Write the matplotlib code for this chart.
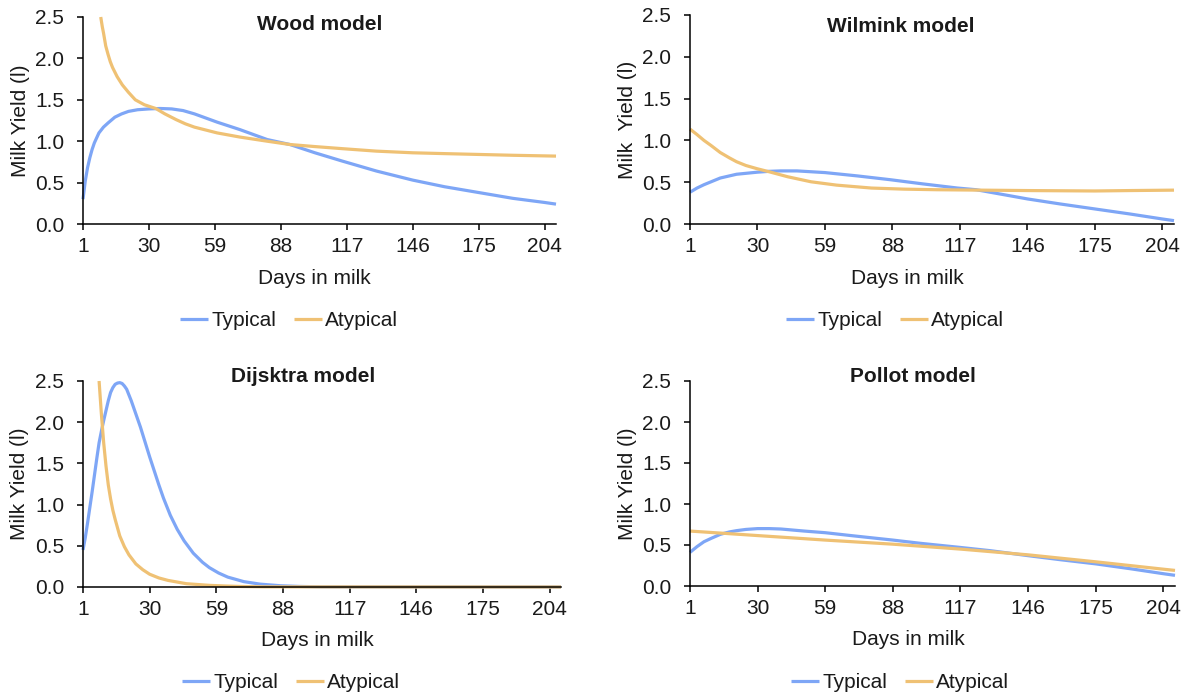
import matplotlib
matplotlib.use("Agg")
import matplotlib.pyplot as plt

plt.rcParams['font.family'] = ['Liberation Sans', 'DejaVu Sans']

blue = '#7EA6F6'
gold = '#EFC174'

x_ticks = [1, 30, 59, 88, 117, 146, 175, 204]
y_ticks = [0.0, 0.5, 1.0, 1.5, 2.0, 2.5]

# Wood model
wood_typ_days = [1, 2, 3, 4, 5, 6, 8, 10, 12, 15, 18, 21, 25, 30, 35, 40, 45, 50, 60, 70,
                 82, 92, 103, 115, 130, 146, 160, 175, 190, 204, 209]
wood_typ = [0.30, 0.52, 0.68, 0.80, 0.90, 0.98, 1.10, 1.17, 1.22, 1.29, 1.33, 1.36, 1.38, 1.39,
            1.395, 1.39, 1.37, 1.33, 1.23, 1.14, 1.02, 0.96, 0.86, 0.76, 0.64, 0.53, 0.45, 0.38,
            0.31, 0.26, 0.24]
wood_atyp_days = [8.8, 9.5, 10, 11, 12, 13, 14, 16, 18.3, 21, 24, 28, 33, 37, 42, 46, 50, 60,
                  70, 82, 92, 103, 115, 130, 146, 160, 175, 190, 209]
wood_atyp = [2.5, 2.38, 2.31, 2.15, 2.05, 1.96, 1.89, 1.78, 1.68, 1.59, 1.50, 1.44, 1.395, 1.33,
             1.26, 1.21, 1.17, 1.10, 1.05, 1.0, 0.96, 0.935, 0.91, 0.88, 0.86, 0.85, 0.84, 0.83,
             0.82]

# Wilmink model
wil_typ_days = [1, 4, 7, 14, 21, 30, 35, 40, 47, 59, 73, 87, 101, 116, 124, 130, 146, 160,
                175, 190, 204, 209]
wil_typ = [0.38, 0.43, 0.47, 0.55, 0.595, 0.62, 0.63, 0.635, 0.635, 0.615, 0.575, 0.53, 0.48,
           0.43, 0.41, 0.38, 0.30, 0.24, 0.18, 0.12, 0.06, 0.04]
wil_atyp_days = [1, 4, 7, 10, 14, 18, 21, 25, 30, 35, 43, 53, 64, 79, 93, 107, 126, 146, 175,
                 190, 209]
wil_atyp = [1.135, 1.07, 1.0, 0.94, 0.855, 0.79, 0.745, 0.70, 0.66, 0.625, 0.565, 0.505, 0.465,
            0.43, 0.417, 0.41, 0.405, 0.40, 0.395, 0.40, 0.405]

# Dijkstra model
dij_typ_days = [1, 2, 3, 4, 5, 6, 7, 8, 9, 10, 11, 12, 13, 14, 15, 16, 17, 18, 19, 20, 22, 24,
                26, 28, 30, 32, 34, 36, 39, 42, 45, 49, 53, 56, 60, 64, 71, 78, 87, 95, 105, 209]
dij_typ = [0.45, 0.60, 0.78, 0.97, 1.16, 1.36, 1.56, 1.75, 1.89, 2.02, 2.14, 2.26, 2.36, 2.42,
           2.46, 2.475, 2.48, 2.47, 2.44, 2.40, 2.26, 2.10, 1.94, 1.76, 1.58, 1.41, 1.24, 1.08,
           0.87, 0.70, 0.56, 0.41, 0.30, 0.235, 0.17, 0.12, 0.065, 0.035, 0.015, 0.007, 0.002,
           0.0]
dij_atyp_days = [8, 9, 10, 11, 12, 13, 14, 15, 17, 19, 21, 24, 27, 30, 34, 38, 42, 46, 51,
                 56, 63, 70, 80, 209]
dij_atyp = [2.5, 2.1, 1.75, 1.47, 1.24, 1.07, 0.93, 0.82, 0.62, 0.49, 0.39, 0.28, 0.21,
            0.155, 0.11, 0.08, 0.06, 0.04, 0.03, 0.02, 0.012, 0.006, 0.002, 0.0]

# Pollot model
pol_typ_days = [1, 4, 7, 10, 14, 18, 21, 25, 30, 35, 40, 50, 59, 70, 88, 100, 117, 130, 146,
                160, 175, 190, 204, 209]
pol_typ = [0.41, 0.48, 0.54, 0.58, 0.63, 0.66, 0.675, 0.69, 0.70, 0.70, 0.695, 0.67, 0.65,
           0.615, 0.56, 0.52, 0.47, 0.43, 0.37, 0.32, 0.27, 0.21, 0.15, 0.13]
pol_atyp_days = [1, 30, 59, 88, 117, 146, 175, 204, 209]
pol_atyp = [0.67, 0.615, 0.56, 0.51, 0.45, 0.38, 0.295, 0.205, 0.19]

panels = [
    ("Wood model", "Milk Yield (l)", wood_typ_days, wood_typ, wood_atyp_days, wood_atyp),
    ("Wilmink model", "Milk  Yield (l)", wil_typ_days, wil_typ, wil_atyp_days, wil_atyp),
    ("Dijsktra model", "Milk Yield (l)", dij_typ_days, dij_typ, dij_atyp_days, dij_atyp),
    ("Pollot model", "Milk Yield (l)", pol_typ_days, pol_typ, pol_atyp_days, pol_atyp),
]

# axes boxes in pixels: left, top, right, bottom
boxes = [(83, 17, 556, 224), (690, 15, 1174, 224), (83, 381, 561, 587), (690, 381, 1175, 586)]
legend_pos = [(289, 321), (895, 321), (291, 683), (900, 683)]
xlabel_x = [0.49, 0.45, 0.49, 0.45]
title_xy = [(0.5, 1.01), (0.436, 0.99), (0.46, 1.07), (0.46, 1.07)]

W, H = 1190, 699
fig = plt.figure(figsize=(W / 100, H / 100), dpi=100)
fs = 15
txt = '#1a1a1a'

for i, (title, ylab, td, tv, ad, av) in enumerate(panels):
    l, t, r, b = boxes[i]
    ax = fig.add_axes([l / W, 1 - b / H, (r - l) / W, (b - t) / H])
    ax.plot(td, tv, color=blue, lw=2.3, label="Typical", solid_capstyle='butt', clip_on=False)
    ax.plot(ad, av, color=gold, lw=2.3, label="Atypical", solid_capstyle='butt', clip_on=False)
    ax.set_xlim(1, 209)
    ax.set_ylim(0, 2.5)
    ax.set_xticks(x_ticks)
    ax.set_yticks(y_ticks)
    ax.set_yticklabels([f"{v:.1f}" for v in y_ticks])
    ax.tick_params(direction='out', length=4.5, width=1.1, labelsize=fs, colors='black',
                   labelcolor=txt)
    ax.tick_params(axis='x', pad=5)
    ax.tick_params(axis='y', pad=9)
    for s in ['top', 'right']:
        ax.spines[s].set_visible(False)
    for s in ['left', 'bottom']:
        ax.spines[s].set_linewidth(1.1)
        ax.spines[s].set_color('black')
    ax.set_xlabel("Days in milk", fontsize=fs, color=txt)
    ax.xaxis.set_label_coords(xlabel_x[i], -0.215)
    ax.set_ylabel(ylab, fontsize=fs, color=txt)
    ax.yaxis.set_label_coords(-0.112 if i % 2 == 0 else -0.11, 0.5)
    tx, ty = title_xy[i]
    ax.text(tx, ty, title, transform=ax.transAxes, ha='center', va='top',
            fontsize=fs, fontweight='bold', color=txt)
    lx, ly = legend_pos[i]
    fig.legend(handles=ax.get_lines(), loc='center', bbox_to_anchor=(lx / W, 1 - ly / H),
               ncol=2, frameon=False, fontsize=fs, handlelength=1.35, handletextpad=0.15,
               columnspacing=0.85, labelcolor=txt)

fig.savefig("out.png", dpi=100)
